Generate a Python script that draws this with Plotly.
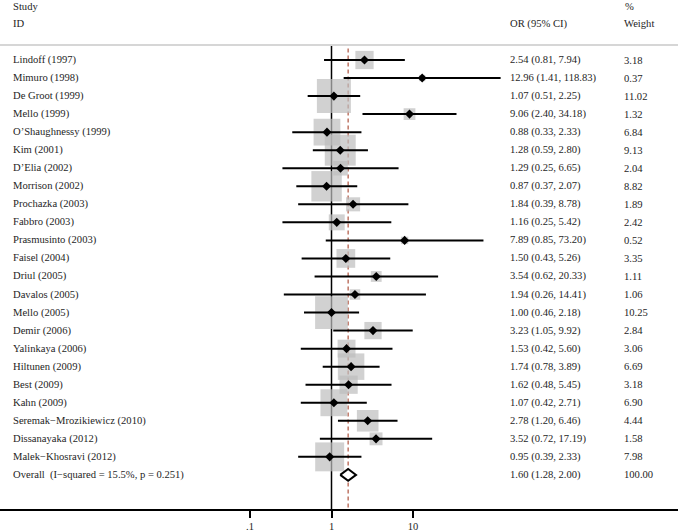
import plotly.graph_objects as go
import math

studies = ["Lindoff (1997)", "Mimuro (1998)", "De Groot (1999)", "Mello (1999)",
           "O\u2019Shaughnessy (1999)", "Kim (2001)", "D\u2019Elia (2002)", "Morrison (2002)",
           "Prochazka (2003)", "Fabbro (2003)", "Prasmusinto (2003)", "Faisel (2004)",
           "Driul (2005)", "Davalos (2005)", "Mello (2005)", "Demir (2006)",
           "Yalinkaya (2006)", "Hiltunen (2009)", "Best (2009)", "Kahn (2009)",
           "Seremak\u2212Mrozikiewicz (2010)", "Dissanayaka (2012)", "Malek\u2212Khosravi (2012)"]
or_vals = [2.54, 12.96, 1.07, 9.06, 0.88, 1.28, 1.29, 0.87, 1.84, 1.16, 7.89, 1.50,
           3.54, 1.94, 1.00, 3.23, 1.53, 1.74, 1.62, 1.07, 2.78, 3.52, 0.95]
ci_low = [0.81, 1.41, 0.51, 2.40, 0.33, 0.59, 0.25, 0.37, 0.39, 0.25, 0.85, 0.43,
          0.62, 0.26, 0.46, 1.05, 0.42, 0.78, 0.48, 0.42, 1.20, 0.72, 0.39]
ci_high = [7.94, 118.83, 2.25, 34.18, 2.33, 2.80, 6.65, 2.07, 8.78, 5.42, 73.20, 5.26,
           20.33, 14.41, 2.18, 9.92, 5.60, 3.89, 5.45, 2.71, 6.46, 17.19, 2.33]
weights = [3.18, 0.37, 11.02, 1.32, 6.84, 9.13, 2.04, 8.82, 1.89, 2.42, 0.52, 3.35,
           1.11, 1.06, 10.25, 2.84, 3.06, 6.69, 3.18, 6.90, 4.44, 1.58, 7.98]
overall_label = "Overall\u2002(I\u2212squared = 15.5%, p = 0.251)"
overall_or, overall_low, overall_high, overall_w = 1.60, 1.28, 2.00, 100.00
tick_vals = [0.1, 1, 10]
tick_text = [".1", "1", "10"]

W, H = 678, 532
FONT = "Liberation Serif"
TXT = "#1e1e1e"
FS = 10.6
n = len(studies)
rows = list(range(n))
overall_row = n
axis_row = 24.89

fig = go.Figure()

# reference line at 1
fig.add_trace(go.Scatter(x=[1, 1], y=[-0.78, axis_row], mode="lines",
                         line=dict(color="black", width=1.5), hoverinfo="skip"))
# overall dashed line
fig.add_trace(go.Scatter(x=[overall_or, overall_or], y=[-0.64, axis_row], mode="lines",
                         line=dict(color="#b5614e", width=1.3, dash="4px,3px"), hoverinfo="skip"))

# weight boxes
sizes = [34 * math.sqrt(w / 11.02) for w in weights]
fig.add_trace(go.Scatter(x=or_vals, y=rows, mode="markers",
                         marker=dict(symbol="square", size=sizes, color="#bdbdbd",
                                     line=dict(width=0)), hoverinfo="skip"))

# CI lines
cx, cy = [], []
for lo, hi, r in zip(ci_low, ci_high, rows):
    cx += [lo, hi, None]
    cy += [r, r, None]
fig.add_trace(go.Scatter(x=cx, y=cy, mode="lines", line=dict(color="black", width=2),
                         hoverinfo="skip"))

# point estimates
fig.add_trace(go.Scatter(x=or_vals, y=rows, mode="markers",
                         marker=dict(symbol="diamond", size=7, color="black"), hoverinfo="skip"))

# overall diamond
hh = 0.33
fig.add_trace(go.Scatter(x=[overall_low, overall_or, overall_high, overall_or, overall_low],
                         y=[overall_row, overall_row - hh, overall_row, overall_row + hh, overall_row],
                         mode="lines", fill="toself", fillcolor="white",
                         line=dict(color="black", width=2), hoverinfo="skip"))

def px(x):
    return x / W

ann = []
def add_text(x, y, t):
    ann.append(dict(x=px(x), xref="paper", y=y, yref="y", text=t, showarrow=False,
                    xanchor="left", yanchor="middle", xshift=-1,
                    font=dict(family=FONT, size=FS, color=TXT)))

add_text(12, -2.99, "Study")
add_text(12, -2.0, "ID")
add_text(509, -2.0, "OR (95% CI)")
add_text(624, -2.99, "%")
add_text(623, -2.0, "Weight")

for i, s in enumerate(studies):
    add_text(12, i, s)
    add_text(509, i, f"{or_vals[i]:.2f} ({ci_low[i]:.2f}, {ci_high[i]:.2f})")
    add_text(623, i, f"{weights[i]:.2f}")
add_text(12, overall_row, overall_label)
add_text(509, overall_row, f"{overall_or:.2f} ({overall_low:.2f}, {overall_high:.2f})")
add_text(623, overall_row, f"{overall_w:.2f}")

shapes = [dict(type="line", xref="paper", yref="y", x0=0, x1=1, y0=-0.83, y1=-0.83,
               line=dict(color="#c8c8c8", width=1.5))]

lo_log = -1 - 250 / 81.5
hi_log = lo_log + W / 81.5

fig.update_layout(
    width=W, height=H,
    margin=dict(l=0, r=0, t=0, b=23),
    paper_bgcolor="white", plot_bgcolor="white",
    showlegend=False,
    annotations=ann, shapes=shapes,
    xaxis=dict(type="log", range=[lo_log, hi_log], tickvals=tick_vals, ticktext=tick_text,
               showgrid=False, zeroline=False, showline=True, linecolor="black", linewidth=1.5,
               ticks="outside", ticklen=7, tickwidth=1.5, tickcolor="black",
               tickfont=dict(family=FONT, size=10.5, color=TXT)),
    yaxis=dict(range=[axis_row, -3.326], visible=False, showgrid=False, zeroline=False),
)

fig.write_html("out.html", config={"displayModeBar": False},
               post_script="document.body.style.margin='0';")
